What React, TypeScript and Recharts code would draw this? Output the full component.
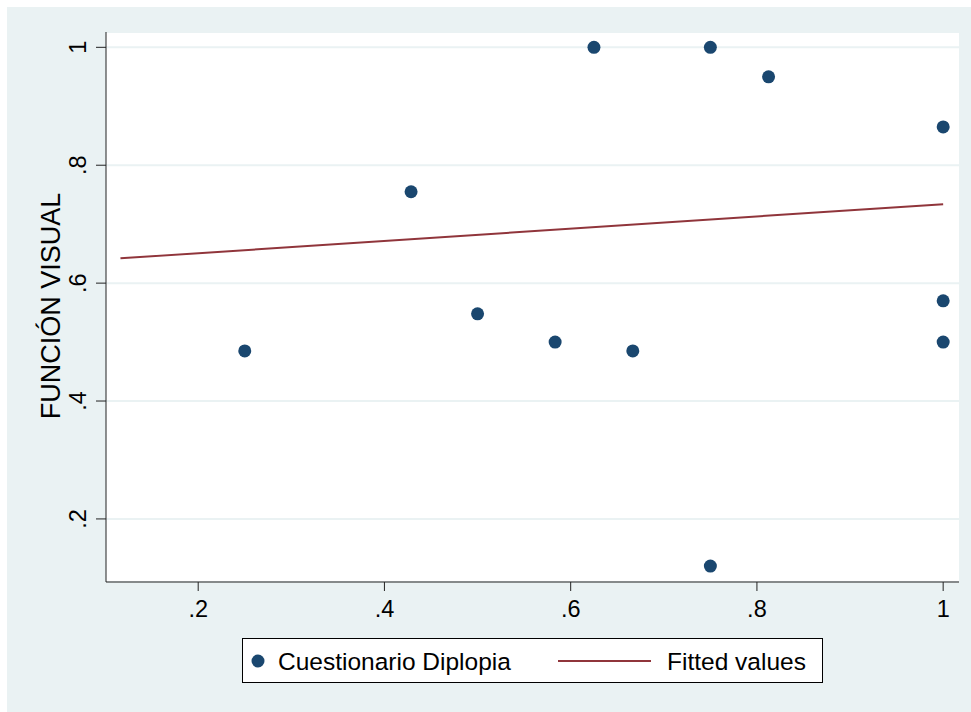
// @ts-nocheck
import {
  ScatterChart,
  Scatter,
  XAxis,
  YAxis,
  CartesianGrid,
} from 'recharts';
import type { ReactElement } from 'react';

const cuestionarioX = [0.25, 0.4286, 0.5, 0.5833, 0.625, 0.6667, 0.75, 0.75, 0.8125, 1, 1, 1];
const funcionVisual = [0.485, 0.755, 0.548, 0.5, 1, 0.485, 1, 0.12, 0.95, 0.865, 0.57, 0.5];

const fittedX = [0.1165, 1];
const fittedY = [0.642, 0.734];

const xTicks = [0.2, 0.4, 0.6, 0.8, 1];
const yTicks = [0.2, 0.4, 0.6, 0.8, 1];

const FONT = '"Liberation Sans", Arial, Helvetica, sans-serif';
const NAVY = '#1a476f';
const MAROON = '#90353b';
const BG = '#eaf2f3';

const points = cuestionarioX.map((x, i) => ({ x, y: funcionVisual[i] }));
const fitted = fittedX.map((x, i) => ({ x, y: fittedY[i] }));

const fmt = (v) => {
  const n = Number(v);
  return n >= 1 ? '1' : String(n).replace(/^0\./, '.');
};

function XTick({ x, y, payload }) {
  return (
    <text x={x} y={y + 23} textAnchor="middle" fontSize={23.5} fontFamily={FONT} fill="#000">
      {fmt(payload.value)}
    </text>
  );
}

function YTick({ x, y, payload }) {
  return (
    <text
      x={x}
      y={y}
      transform={`rotate(-90, ${x}, ${y})`}
      textAnchor="middle"
      fontSize={23.5}
      fontFamily={FONT}
      fill="#000"
    >
      {fmt(payload.value)}
    </text>
  );
}

function YTitle({ viewBox }) {
  const x = viewBox.x + 14;
  const y = viewBox.y + viewBox.height / 2 - 1;
  return (
    <text
      x={x}
      y={y}
      transform={`rotate(-90, ${x}, ${y})`}
      textAnchor="middle"
      fontSize={27}
      fontFamily={FONT}
      fill="#000"
    >
      FUNCIÓN VISUAL
    </text>
  );
}

function LegendBox(): ReactElement {
  return (
    <svg width={581} height={45} style={{ display: 'block' }}>
      <rect x={0.5} y={0.5} width={580} height={44} fill="#fff" stroke="#000" strokeWidth={1} />
      <circle cx={16} cy={23} r={6.5} fill={NAVY} />
      <text x={36} y={31.5} fontSize={24.5} fontFamily={FONT} fill="#000">
        Cuestionario Diplopia
      </text>
      <line x1={316} x2={409} y1={23} y2={23} stroke={MAROON} strokeWidth={2} />
      <text x={425} y={31.5} fontSize={24.5} fontFamily={FONT} fill="#000">
        Fitted values
      </text>
    </svg>
  );
}

export default function App(): ReactElement {
  return (
    <div style={{ position: 'fixed', left: 0, top: 0, width: 971, height: 712, background: '#fff' }}>
      <div style={{ position: 'absolute', left: 7, top: 7, width: 964, height: 705, background: BG }} />
      <div style={{ position: 'absolute', left: 0, top: 0 }}>
        <ScatterChart
          width={971}
          height={712}
          margin={{ top: 32, right: 12, bottom: 90, left: 46 }}
        >
          <CartesianGrid fill="#fff" stroke={BG} strokeWidth={2} vertical={false} />
          <XAxis
            type="number"
            dataKey="x"
            domain={[0.101, 1.017]}
            ticks={xTicks}
            allowDataOverflow
            height={40}
            tickSize={9}
            tickMargin={3}
            stroke="#222"
            tick={<XTick />}
          />
          <YAxis
            type="number"
            dataKey="y"
            domain={[0.093, 1.026]}
            ticks={yTicks}
            allowDataOverflow
            width={60}
            tickSize={10}
            tickMargin={10}
            stroke="#222"
            tick={<YTick />}
            label={<YTitle />}
          />
          <Scatter
            name="Cuestionario Diplopia"
            data={points}
            fill={NAVY}
            isAnimationActive={false}
            shape={(p) => <circle cx={p.cx} cy={p.cy} r={6.5} fill={NAVY} />}
          />
          <Scatter
            name="Fitted values"
            data={fitted}
            line={{ stroke: MAROON, strokeWidth: 2 }}
            shape={() => <g />}
            isAnimationActive={false}
          />
        </ScatterChart>
      </div>
      <div style={{ position: 'absolute', left: 242, top: 638 }}>
        <LegendBox />
      </div>
    </div>
  );
}
